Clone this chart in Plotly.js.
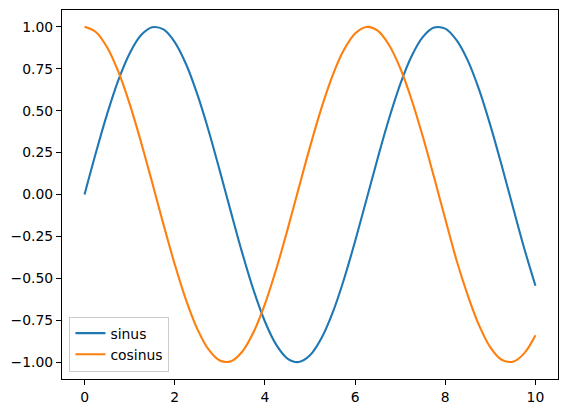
<!DOCTYPE html>
<html>
<head>
<meta charset="utf-8">
<script src="https://cdn.plot.ly/plotly-3.0.1.min.js"></script>
<style>
  html, body { margin: 0; padding: 0; background: #fff; }
  #chart { width: 568px; height: 413px; }
</style>
</head>
<body>
<div id="chart"></div>
<script>
// values, step 0.25
const xs = [0, 0.25, 0.5, 0.75, 1, 1.25, 1.5, 1.75, 2, 2.25, 2.5, 2.75, 3, 3.25, 3.5, 3.75,
  4, 4.25, 4.5, 4.75, 5, 5.25, 5.5, 5.75, 6, 6.25, 6.5, 6.75, 7, 7.25, 7.5, 7.75,
  8, 8.25, 8.5, 8.75, 9, 9.25, 9.5, 9.75, 10];
const sinus = [0.00, 0.247, 0.479, 0.682, 0.841, 0.949, 0.997, 0.984, 0.909, 0.778, 0.598, 0.382,
  0.141, -0.108, -0.351, -0.572, -0.757, -0.895, -0.978, -0.999, -0.959, -0.859, -0.706, -0.508,
  -0.279, -0.033, 0.215, 0.450, 0.657, 0.823, 0.938, 0.995, 0.989, 0.920, 0.798, 0.625,
  0.412, 0.174, -0.075, -0.320, -0.544];
const cosinus = [1.00, 0.969, 0.878, 0.732, 0.540, 0.315, 0.071, -0.178, -0.416, -0.628, -0.801, -0.924,
  -0.990, -0.994, -0.936, -0.820, -0.654, -0.446, -0.211, 0.038, 0.284, 0.512, 0.709, 0.861,
  0.960, 0.999, 0.977, 0.893, 0.754, 0.568, 0.347, 0.104, -0.146, -0.392, -0.602, -0.780,
  -0.911, -0.985, -0.997, -0.947, -0.839];
const xTicks = [0, 2, 4, 6, 8, 10];
const yTicks = [-1, -0.75, -0.5, -0.25, 0, 0.25, 0.5, 0.75, 1];

const traces = [
  { x: xs, y: sinus, name: 'sinus', type: 'scatter', mode: 'lines',
    line: { color: '#1f77b4', width: 2.1, shape: 'spline' } },
  { x: xs, y: cosinus, name: 'cosinus', type: 'scatter', mode: 'lines',
    line: { color: '#ff7f0e', width: 2.1, shape: 'spline' } }
];

const axisStyle = {
  showgrid: false, zeroline: false,
  showline: true, linecolor: '#000', linewidth: 1.1, mirror: true,
  ticks: 'outside', ticklen: 5, tickwidth: 1.1, tickcolor: '#000',
  tickfont: { family: 'DejaVu Sans', size: 13.9, color: '#000' }
};

const layout = {
  width: 568, height: 413,
  margin: { l: 62, r: 10, t: 10, b: 34 },
  paper_bgcolor: '#fff', plot_bgcolor: '#fff',
  font: { family: 'DejaVu Sans', size: 13.9, color: '#000' },
  xaxis: Object.assign({}, axisStyle, { range: [-0.5, 10.5], tickvals: xTicks }),
  yaxis: Object.assign({}, axisStyle, { range: [-1.1, 1.1], tickvals: yTicks, tickformat: '.2f' }),
  showlegend: true,
  legend: {
    x: 0.015, y: 0.02, xanchor: 'left', yanchor: 'bottom',
    bgcolor: 'rgba(255,255,255,0.8)', bordercolor: '#cccccc', borderwidth: 1,
    font: { family: 'DejaVu Sans', size: 13.9, color: '#000' },
    tracegroupgap: 0
  }
};

Plotly.newPlot('chart', traces, layout, { displayModeBar: false, staticPlot: true });
</script>
</body>
</html>
